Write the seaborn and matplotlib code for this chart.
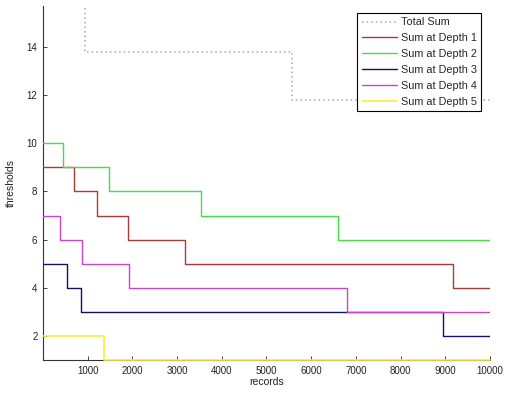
import matplotlib
matplotlib.use("Agg")
import matplotlib.pyplot as plt
import seaborn as sns
import pandas as pd

# ---- data ----
total_x = [0, 940, 5580, 10000]
total_y = [17.0, 13.77, 11.8, 11.8]

d1_x = [0, 700, 1200, 1900, 3180, 9170, 10000]
d1_y = [9, 8, 7, 6, 5, 4, 4]

d2_x = [0, 450, 1480, 3530, 6600, 10000]
d2_y = [10, 9, 8, 7, 6, 6]

d3_x = [0, 530, 850, 8950, 10000]
d3_y = [5, 4, 3, 2, 2]

d4_x = [0, 370, 870, 1930, 6800, 10000]
d4_y = [7, 6, 5, 4, 3, 3]

d5_x = [0, 1370, 10000]
d5_y = [2, 1, 1]

labels = ["Total Sum", "Sum at Depth 1", "Sum at Depth 2",
          "Sum at Depth 3", "Sum at Depth 4", "Sum at Depth 5"]
x_ticks = [1000, 2000, 3000, 4000, 5000, 6000, 7000, 8000, 9000, 10000]
y_ticks = [2, 4, 6, 8, 10, 12, 14]

series = [(total_x, total_y), (d1_x, d1_y), (d2_x, d2_y),
          (d3_x, d3_y), (d4_x, d4_y), (d5_x, d5_y)]
colors = ["#a8a8a8", "#b03838", "#44dd44", "#10106e", "#cc44cc", "#f4f040"]
styles = [(0, (1, 2)), "-", "-", "-", "-", "-"]
widths = [1.1, 1.0, 1.0, 1.0, 1.0, 1.2]

sns.set_style("white")
plt.rcParams["font.family"] = ["Liberation Sans", "DejaVu Sans"]

fig = plt.figure(figsize=(5.06, 3.95), dpi=100)
ax = fig.add_axes([43 / 506, 35 / 395, (490 - 43) / 506, (360 - 6) / 395])

for i, ((xs, ys), lab, c, ls, lw) in enumerate(zip(series, labels, colors, styles, widths)):
    df = pd.DataFrame({"records": xs, "thresholds": ys})
    sns.lineplot(data=df, x="records", y="thresholds", ax=ax, estimator=None,
                 drawstyle="steps-post", color=c, linestyle=ls, linewidth=lw,
                 label=lab, zorder=3 + (5 if i == 5 else 0))

# let the bottom-level yellow line show over the axis line
ax.lines[-1].set_clip_on(False)
ax.lines[0].set_clip_on(True)

ax.set_xlim(0, 10000)
ax.set_ylim(1, 15.7)
ax.set_xticks(x_ticks)
ax.set_yticks(y_ticks)
ax.set_xticklabels([str(v) for v in x_ticks])
ax.set_yticklabels([str(v) for v in y_ticks])
ax.tick_params(direction="in", length=3, width=0.6, labelsize=7, pad=4,
               colors="#222222")
ax.tick_params(axis="x", bottom=True)
ax.tick_params(axis="y", left=True)
for s in ["top", "right"]:
    ax.spines[s].set_visible(False)
for s in ["left", "bottom"]:
    ax.spines[s].set_color("#333333")
    ax.spines[s].set_linewidth(0.8)
    ax.spines[s].set_zorder(2)

ax.set_xlabel("records", fontsize=7.5, labelpad=1, color="#222222")
ax.set_ylabel("thresholds", fontsize=7.5, labelpad=8, color="#222222")

leg = ax.legend(loc="upper right", bbox_to_anchor=(481 / 506, 1 - 13 / 395),
                bbox_transform=fig.transFigure, fontsize=7.8, frameon=True,
                fancybox=False, framealpha=1, edgecolor="black",
                handlelength=3.3, handletextpad=0.3, labelspacing=0.55,
                borderpad=0.4, borderaxespad=0)
leg.get_frame().set_linewidth(0.8)
leg.set_zorder(20)

fig.savefig("out.png", dpi=100)
